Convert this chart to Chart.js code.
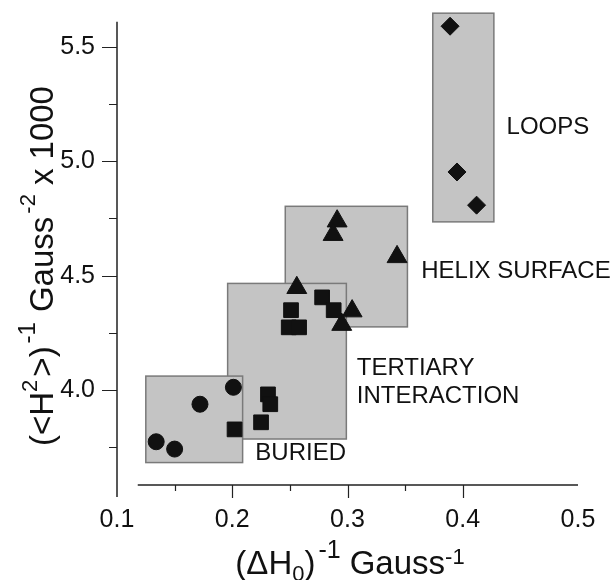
<!DOCTYPE html>
<html>
<head>
<meta charset="utf-8">
<script src="https://cdn.jsdelivr.net/npm/chart.js@4.4.1/dist/chart.umd.min.js"></script>
<style>
  html, body { margin: 0; padding: 0; background: #fff; }
</style>
</head>
<body>
<canvas id="chart" width="613" height="580"></canvas>
<script>
// x = 1/ΔH0 (Gauss^-1), y = 1000/<H^2> (Gauss^-2)
const buriedX = [0.134, 0.150, 0.172, 0.201];
const buriedY = [3.774, 3.742, 3.938, 4.012];
const tertiaryX = [0.202, 0.225, 0.231, 0.233, 0.249, 0.258, 0.251, 0.278, 0.288];
const tertiaryY = [3.828, 3.859, 3.981, 3.938, 4.274, 4.274, 4.349, 4.405, 4.349];
const helixX = [0.291, 0.2875, 0.343, 0.256, 0.304, 0.295];
const helixY = [4.738, 4.679, 4.582, 4.447, 4.345, 4.286];
const loopsX = [0.389, 0.395, 0.412];
const loopsY = [5.590, 4.953, 4.808];

// shaded regions, drawn in this order
const regionX0 = [0.246, 0.196, 0.125, 0.374];
const regionX1 = [0.352, 0.299, 0.209, 0.427];
const regionY0 = [4.276, 3.786, 3.683, 4.735];
const regionY1 = [4.803, 4.466, 4.061, 5.647];

// region captions
const captionText = ['LOOPS', 'HELIX SURFACE', 'TERTIARY', 'INTERACTION', 'BURIED'];
const captionX = [0.438, 0.364, 0.308, 0.308, 0.220];
const captionY = [5.148, 4.520, 4.094, 3.974, 3.725];

// axis ticks
const xLabelTicks = [0.1, 0.2, 0.3, 0.4, 0.5];
const xMajorMarks = [0.2, 0.3, 0.4];
const xMinorMarks = [0.15, 0.25, 0.35];
const yLabelTicks = [4.0, 4.5, 5.0, 5.5];
const yMinorMarks = [3.75, 4.25, 4.75, 5.25];

const FONT = '"Liberation Sans", Arial, Helvetica, sans-serif';
const INK = '#111';

const toPoints = (xs, ys) => xs.map((v, i) => ({ x: v, y: ys[i] }));

// draw a run of text pieces with super/subscripts, centred on (cx, cy)
function drawRich(ctx, parts, cx, cy, angle) {
  ctx.save();
  ctx.translate(cx, cy);
  ctx.rotate(angle);
  let total = 0;
  parts.forEach(p => {
    ctx.font = p.size + 'px ' + FONT;
    p.w = ctx.measureText(p.t).width + (p.gap || 0);
    total += p.w;
  });
  let pos = -total / 2;
  ctx.fillStyle = INK;
  ctx.textBaseline = 'alphabetic';
  ctx.textAlign = 'left';
  parts.forEach(p => {
    ctx.font = p.size + 'px ' + FONT;
    ctx.fillText(p.t, pos, p.dy || 0);
    pos += p.w;
  });
  ctx.restore();
}

const regionPlugin = {
  id: 'regions',
  beforeDatasetsDraw(chart) {
    const { ctx, scales: { x, y } } = chart;
    ctx.save();
    for (let i = 0; i < regionX0.length; i++) {
      const l = x.getPixelForValue(regionX0[i]);
      const r = x.getPixelForValue(regionX1[i]);
      const t = y.getPixelForValue(regionY1[i]);
      const b = y.getPixelForValue(regionY0[i]);
      ctx.fillStyle = '#c4c4c4';
      ctx.fillRect(l, t, r - l, b - t);
      ctx.strokeStyle = '#7a7a7a';
      ctx.lineWidth = 1.5;
      ctx.strokeRect(l, t, r - l, b - t);
    }

    // axes: y line runs past the x line, x line starts off the y axis
    const left = x.getPixelForValue(0.1);
    const bottom = chart.chartArea.bottom;
    ctx.strokeStyle = '#222';
    ctx.lineWidth = 1.5;
    ctx.beginPath();
    ctx.moveTo(left, y.getPixelForValue(5.61));
    ctx.lineTo(left, bottom + 12);
    ctx.moveTo(x.getPixelForValue(0.118), bottom);
    ctx.lineTo(x.getPixelForValue(0.5), bottom);
    ctx.stroke();

    ctx.lineWidth = 1.2;
    ctx.beginPath();
    yLabelTicks.forEach(v => {
      const p = Math.round(y.getPixelForValue(v)) + 0.5;
      ctx.moveTo(left - 15, p); ctx.lineTo(left, p);
    });
    yMinorMarks.forEach(v => {
      const p = Math.round(y.getPixelForValue(v)) + 0.5;
      ctx.moveTo(left - 8, p); ctx.lineTo(left, p);
    });
    xMajorMarks.forEach(v => {
      const p = Math.round(x.getPixelForValue(v)) + 0.5;
      ctx.moveTo(p, bottom); ctx.lineTo(p, bottom + 13);
    });
    xMinorMarks.forEach(v => {
      const p = Math.round(x.getPixelForValue(v)) + 0.5;
      ctx.moveTo(p, bottom); ctx.lineTo(p, bottom + 6);
    });
    ctx.stroke();
    ctx.restore();
  },
  afterDatasetsDraw(chart) {
    const { ctx, scales: { x, y } } = chart;
    ctx.save();
    ctx.fillStyle = INK;
    ctx.font = '24px ' + FONT;
    ctx.textAlign = 'left';
    ctx.textBaseline = 'middle';
    captionText.forEach((t, i) => {
      ctx.fillText(t, x.getPixelForValue(captionX[i]), y.getPixelForValue(captionY[i]));
    });
    ctx.restore();

    // axis titles
    drawRich(ctx, [
      { t: '(<H', size: 33 },
      { t: '2', size: 22, dy: -16, gap: 3 },
      { t: '>)', size: 33, gap: 3 },
      { t: '-1', size: 24, dy: -18, gap: 10 },
      { t: 'Gauss', size: 33, gap: 3 },
      { t: '-2', size: 22, dy: -18, gap: 9 },
      { t: 'x 1000', size: 33 }
    ], 53, 266, -Math.PI / 2);

    drawRich(ctx, [
      { t: '(ΔH', size: 33 },
      { t: '0', size: 22, dy: 7 },
      { t: ')', size: 33, gap: 3 },
      { t: '-1', size: 25, dy: -16, gap: 9 },
      { t: 'Gauss', size: 33 },
      { t: '-1', size: 22, dy: -10 }
    ], 350, 574, 0);
  }
};

const markStyle = { backgroundColor: INK, borderColor: INK, borderWidth: 1 };

new Chart(document.getElementById('chart'), {
  type: 'scatter',
  data: {
    datasets: [
      { label: 'buried', data: toPoints(buriedX, buriedY), pointStyle: 'circle', pointRadius: 8, ...markStyle },
      { label: 'tertiary', data: toPoints(tertiaryX, tertiaryY), pointStyle: 'rect', pointRadius: 10.4, ...markStyle },
      { label: 'helix surface', data: toPoints(helixX, helixY), pointStyle: 'triangle', pointRadius: 11.5, ...markStyle },
      { label: 'loops', data: toPoints(loopsX, loopsY), pointStyle: 'rectRot', pointRadius: 9, ...markStyle }
    ]
  },
  options: {
    responsive: false,
    animation: false,
    events: [],
    layout: { padding: { top: 12, right: 35, left: 0, bottom: 0 } },
    plugins: { legend: { display: false }, tooltip: { enabled: false } },
    scales: {
      x: {
        type: 'linear',
        min: 0.1,
        max: 0.5,
        grid: { display: false, drawTicks: false },
        border: { display: false },
        ticks: {
          padding: 20,
          color: INK,
          font: { size: 25, family: FONT },
          callback: v => v.toFixed(1)
        },
        afterBuildTicks: s => { s.ticks = xLabelTicks.map(v => ({ value: v })); },
        afterFit: s => { s.height = 95; s.paddingLeft = 0; s.paddingRight = 0; }
      },
      y: {
        type: 'linear',
        min: 3.585,
        max: 5.65,
        grid: { display: false, drawTicks: false },
        border: { display: false },
        ticks: {
          padding: 22,
          color: INK,
          font: { size: 25, family: FONT },
          callback: v => v.toFixed(1)
        },
        afterBuildTicks: s => { s.ticks = yLabelTicks.map(v => ({ value: v })); },
        afterFit: s => { s.width = 117; s.paddingTop = 0; s.paddingBottom = 0; }
      }
    }
  },
  plugins: [regionPlugin]
});
</script>
</body>
</html>
